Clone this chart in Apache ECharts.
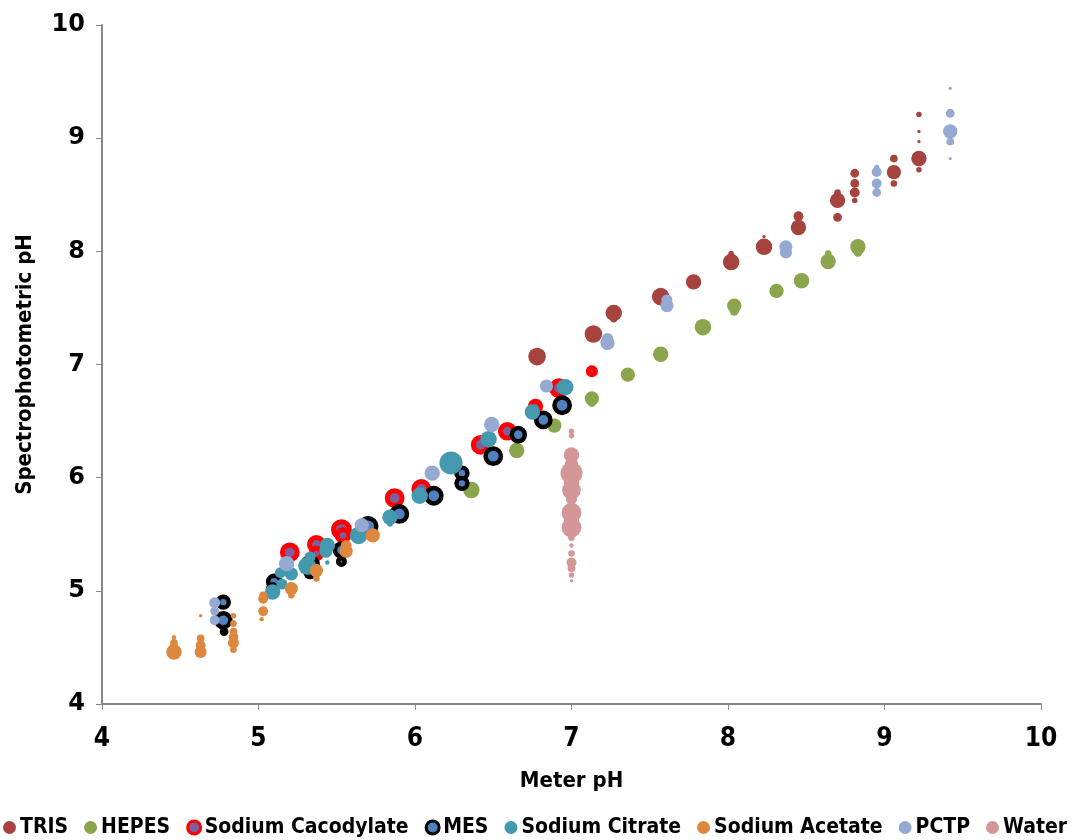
<!DOCTYPE html>
<html>
<head>
<meta charset="utf-8">
<script src="https://cdn.jsdelivr.net/npm/echarts@6/dist/echarts.min.js"></script>
<style>
  html, body { margin: 0; padding: 0; background: #fff; }
  #chart { width: 1086px; height: 840px; }
</style>
</head>
<body>
<div id="chart"></div>
<script>
// Each point: [meter pH, spectrophotometric pH, relative weight]
const seriesNames = ['TRIS', 'HEPES', 'Sodium Cacodylate', 'MES', 'Sodium Citrate', 'Sodium Acetate', 'PCTP', 'Water'];

const tris = [
  [6.78, 7.07, 8], [7.14, 7.27, 8], [7.27, 7.455, 7.5], [7.27, 7.40, 3], [7.57, 7.60, 8], [7.60, 7.57, 4],
  [7.78, 7.73, 7], [8.02, 7.905, 7.5], [8.02, 7.98, 2.5], [8.23, 8.04, 7.5], [8.23, 8.13, 1.5],
  [8.45, 8.21, 7], [8.45, 8.31, 4.5], [8.70, 8.45, 7], [8.70, 8.52, 3], [8.70, 8.30, 4],
  [8.81, 8.69, 4], [8.81, 8.60, 4], [8.81, 8.52, 4.5], [8.81, 8.45, 2.5],
  [9.06, 8.82, 3.5], [9.06, 8.70, 6.5], [9.06, 8.60, 3],
  [9.22, 9.21, 2.5], [9.22, 9.06, 1.5], [9.22, 8.97, 1.5], [9.22, 8.82, 7], [9.22, 8.72, 2.5]
];

const hepes = [
  [6.36, 5.89, 7.5], [6.65, 6.24, 7], [6.89, 6.46, 6.5], [7.13, 6.70, 6.5], [7.13, 6.66, 3.5],
  [7.36, 6.91, 6.5], [7.57, 7.09, 7], [7.84, 7.33, 7.5], [8.04, 7.52, 6.5], [8.04, 7.47, 4],
  [8.31, 7.65, 6.5], [8.47, 7.74, 7], [8.64, 7.91, 7], [8.64, 7.98, 3], [8.83, 8.04, 7], [8.83, 7.99, 4]
];

const cacodylate = [
  [5.20, 5.34, 9], [5.37, 5.41, 8.5], [5.37, 5.33, 7], [5.53, 5.54, 9.5], [5.54, 5.49, 7.5],
  [5.87, 5.82, 9], [6.04, 5.90, 9], [6.42, 6.29, 9], [6.59, 6.41, 8.5], [6.77, 6.63, 7],
  [6.92, 6.79, 9], [7.13, 6.94, 5.5]
];

const mes = [
  [4.775, 4.90, 7], [4.775, 4.74, 8.5], [4.78, 4.64, 4], [5.10, 5.08, 7.5], [5.09, 5.02, 6],
  [5.33, 5.23, 9], [5.33, 5.16, 6], [5.53, 5.36, 8], [5.53, 5.26, 5],
  [5.70, 5.57, 9.5], [5.90, 5.68, 9], [6.12, 5.84, 9], [6.30, 6.04, 7], [6.30, 5.95, 7],
  [6.50, 6.19, 9], [6.66, 6.38, 8], [6.82, 6.51, 8.5], [6.94, 6.64, 9]
];

const citrate = [
  [5.09, 4.99, 7], [5.15, 5.06, 5], [5.14, 5.16, 5], [5.21, 5.15, 6], [5.31, 5.22, 8],
  [5.33, 5.30, 5], [5.44, 5.40, 7], [5.43, 5.35, 6], [5.44, 5.25, 2], [5.64, 5.49, 8],
  [5.84, 5.65, 7], [5.84, 5.59, 2.5], [6.03, 5.84, 7.5], [6.23, 6.13, 10.5], [6.47, 6.34, 7.5],
  [6.75, 6.58, 7], [6.96, 6.80, 7.5]
];

const acetate = [
  [4.46, 4.46, 7], [4.46, 4.54, 3.5], [4.46, 4.59, 2], [4.63, 4.46, 5.5], [4.63, 4.52, 4.5],
  [4.63, 4.58, 3.5], [4.63, 4.78, 1.5], [4.84, 4.48, 3], [4.84, 4.54, 5], [4.84, 4.59, 4.5],
  [4.84, 4.64, 3.5], [4.84, 4.71, 3], [4.84, 4.78, 2.5],
  [5.03, 4.93, 4.5], [5.03, 4.96, 3.5], [5.03, 4.82, 4.5], [5.02, 4.75, 2],
  [5.21, 5.02, 6], [5.21, 4.96, 3], [5.37, 5.18, 6], [5.37, 5.11, 3],
  [5.56, 5.35, 6], [5.56, 5.40, 5], [5.73, 5.49, 6.5]
];

const pctp = [
  [4.72, 4.895, 5], [4.72, 4.82, 4], [4.72, 4.74, 4.5], [5.18, 5.24, 7], [5.66, 5.58, 6.5],
  [6.11, 6.04, 7], [6.49, 6.47, 7], [6.84, 6.81, 6], [7.23, 7.23, 5], [7.23, 7.19, 6.5],
  [7.61, 7.57, 5], [7.61, 7.52, 6], [8.37, 8.04, 6], [8.37, 7.99, 5.5],
  [8.95, 8.74, 2.5], [8.95, 8.70, 4.5], [8.95, 8.60, 4.5], [8.95, 8.52, 4],
  [9.42, 9.44, 1.5], [9.42, 9.22, 4], [9.42, 9.06, 6.5], [9.42, 8.97, 3.5], [9.42, 8.82, 1.5]
];

const water = [
  [7.0, 6.41, 2.5], [7.0, 6.37, 2.5], [7.0, 6.20, 7], [7.0, 6.12, 6], [7.0, 6.04, 10],
  [7.0, 5.96, 7], [7.0, 5.89, 8.5], [7.0, 5.81, 5], [7.0, 5.69, 9], [7.0, 5.62, 7],
  [7.0, 5.56, 9], [7.0, 5.47, 3], [7.0, 5.40, 2], [7.0, 5.33, 3], [7.0, 5.25, 4.5],
  [7.0, 5.20, 3.5], [7.0, 5.14, 2.5], [7.0, 5.09, 1.5]
];

const axisTicks = [4, 5, 6, 7, 8, 9, 10];

const NARROW = '"DejaVu Sans Condensed", "DejaVu Sans", sans-serif';
const WIDE = '"DejaVu Sans", sans-serif';
const SIZE_SCALE = 2.2;

const styles = [
  { color: '#a6433f' },
  { color: '#8aa54c' },
  { color: '#7d5f9e', borderColor: '#ff0000', borderWidth: 5 },
  { color: '#4f81bd', borderColor: '#000000', borderWidth: 4.5 },
  { color: '#4499af' },
  { color: '#dd883e' },
  { color: '#95a9d3' },
  { color: '#d49697' }
];
const dataSets = [tris, hepes, cacodylate, mes, citrate, acetate, pctp, water];

const series = seriesNames.map((name, i) => {
  const st = styles[i];
  const bw = st.borderWidth || 0;
  return {
    name: name,
    type: 'scatter',
    data: dataSets[i],
    symbol: 'circle',
    symbolSize: d => Math.max(1.5, d[2] * SIZE_SCALE - bw),
    itemStyle: Object.assign({ opacity: 1 }, st),
    emphasis: { disabled: true },
    z: 2 + i
  };
});

const chart = echarts.init(document.getElementById('chart'), null, { renderer: 'canvas' });
chart.setOption({
  animation: false,
  backgroundColor: '#ffffff',
  textStyle: { fontFamily: NARROW, fontWeight: 'bold', color: '#000' },
  grid: { left: 102, right: 45, top: 25, bottom: 136 },
  legend: {
    data: seriesNames.map((n, i) => ({
      name: n,
      itemStyle: styles[i].borderWidth ? { borderWidth: 3 } : {}
    })),
    bottom: 2,
    left: 3,
    padding: 0,
    icon: 'circle',
    itemWidth: 13,
    itemHeight: 13,
    itemGap: 16,
    textStyle: { fontFamily: NARROW, fontWeight: 'bold', fontSize: 21, color: '#000', padding: [0, 0, 0, -1] }
  },
  xAxis: {
    type: 'value',
    min: axisTicks[0],
    max: axisTicks[axisTicks.length - 1],
    interval: 1,
    name: 'Meter pH',
    nameLocation: 'middle',
    nameGap: 66,
    nameTextStyle: { fontFamily: NARROW, fontWeight: 'bold', fontSize: 22, color: '#000' },
    axisLine: { lineStyle: { color: '#888888', width: 2 } },
    axisTick: { show: true, length: 6, lineStyle: { color: '#888888', width: 1 } },
    axisLabel: { fontFamily: NARROW, fontWeight: 'bold', fontSize: 26, color: '#000', margin: 22 },
    splitLine: { show: false }
  },
  yAxis: {
    type: 'value',
    min: axisTicks[0],
    max: axisTicks[axisTicks.length - 1],
    interval: 1,
    name: 'Spectrophotometric pH',
    nameLocation: 'middle',
    nameGap: 66,
    nameTextStyle: { fontFamily: NARROW, fontWeight: 'bold', fontSize: 22, color: '#000' },
    axisLine: { show: true, lineStyle: { color: '#888888', width: 2 } },
    axisTick: { show: true, length: 6, lineStyle: { color: '#888888', width: 1 } },
    axisLabel: { fontFamily: WIDE, fontWeight: 'bold', fontSize: 24, color: '#000', margin: 17 },
    splitLine: { show: false }
  },
  series: series
});
</script>
</body>
</html>
